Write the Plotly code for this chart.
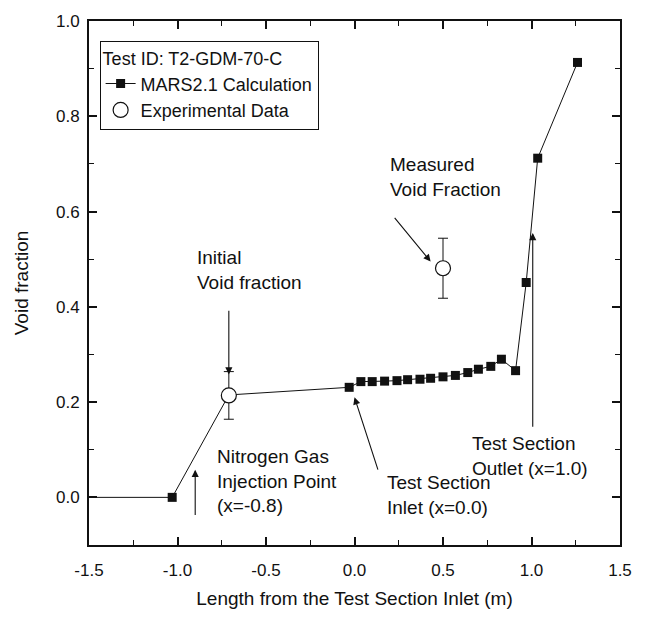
import plotly.graph_objects as go

# MARS2.1 calculated void fraction along the loop
mars_x = [-1.6, -1.03, -0.71, -0.03, 0.036, 0.10, 0.17, 0.24, 0.30, 0.37, 0.43,
          0.50, 0.57, 0.64, 0.70, 0.77, 0.83, 0.91, 0.97, 1.035, 1.26]
mars_y = [0.0, 0.0, 0.215, 0.231, 0.243, 0.243, 0.244, 0.245, 0.247, 0.248, 0.250,
          0.253, 0.256, 0.262, 0.269, 0.275, 0.290, 0.266, 0.451, 0.712, 0.913]

# Experimental void fraction with uncertainty
exp_x = [-0.71, 0.50]
exp_y = [0.214, 0.481]
exp_err = [0.05, 0.063]

x_tick_vals = [-1.5, -1.0, -0.5, 0.0, 0.5, 1.0, 1.5]
x_tick_text = ["-1.5", "-1.0", "-0.5", "0.0", "0.5", "1.0", "1.5"]
y_tick_vals = [0.0, 0.2, 0.4, 0.6, 0.8, 1.0]
y_tick_text = ["0.0", "0.2", "0.4", "0.6", "0.8", "1.0"]

FONT = "Liberation Sans, Arial, sans-serif"
BLACK = "#111111"

fig = go.Figure()

fig.add_trace(go.Scatter(
    x=mars_x, y=mars_y, mode="lines+markers", name="MARS2.1 Calculation",
    line=dict(color=BLACK, width=1),
    marker=dict(symbol="square", size=9, color=BLACK),
    cliponaxis=True,
))

fig.add_trace(go.Scatter(
    x=exp_x, y=exp_y, mode="markers", name="Experimental Data",
    marker=dict(symbol="circle", size=15, color="white",
                line=dict(color=BLACK, width=1.2)),
    error_y=dict(type="data", array=exp_err, visible=True,
                 color=BLACK, thickness=1, width=5),
))

# Text callouts with arrows (tail at ax/ay, head at x/y)
arrows = [
    dict(x=-0.71, y=0.258, ax=-0.71, ay=0.395),   # initial void fraction
    dict(x=0.43, y=0.495, ax=0.22, ay=0.59),      # measured void fraction
    dict(x=-0.90, y=0.058, ax=-0.90, ay=-0.04),   # injection point
    dict(x=0.0, y=0.21, ax=0.135, ay=0.055),      # test section inlet
    dict(x=1.007, y=0.555, ax=1.007, ay=0.145),   # test section outlet
]
for a in arrows:
    fig.add_annotation(x=a["x"], y=a["y"], ax=a["ax"], ay=a["ay"],
                       xref="x", yref="y", axref="x", ayref="y",
                       text="", showarrow=True, arrowhead=2, arrowsize=1.3,
                       arrowwidth=1.1, arrowcolor=BLACK)

labels = [
    ("Initial<br>Void fraction", -0.90, 0.477),
    ("Measured<br>Void Fraction", 0.19, 0.672),
    ("Nitrogen Gas<br>Injection Point<br>(x=-0.8)", -0.79, 0.035),
    ("Test Section<br>Inlet (x=0.0)", 0.17, 0.004),
    ("Test Section<br>Outlet (x=1.0)", 0.65, 0.087),
]
for txt, lx, ly in labels:
    fig.add_annotation(x=lx, y=ly, xref="x", yref="y", text=txt,
                       showarrow=False, xanchor="left", yanchor="middle",
                       align="left", font=dict(family=FONT, size=19, color=BLACK))

axis_common = dict(
    showline=True, linewidth=2, linecolor=BLACK, mirror="ticks",
    ticks="inside", ticklen=8, tickwidth=1.5, tickcolor=BLACK,
    showgrid=False, zeroline=False,
    tickfont=dict(family=FONT, size=17, color=BLACK),
)

fig.update_xaxes(
    range=[-1.5, 1.5], tickvals=x_tick_vals, ticktext=x_tick_text,
    ticklabelstandoff=9,
    minor=dict(dtick=0.25, tick0=-1.5, ticks="inside", ticklen=5,
               tickwidth=1.2, tickcolor=BLACK),
    title=dict(text="Length from the Test Section Inlet (m)",
               font=dict(family=FONT, size=19, color=BLACK), standoff=12),
    **axis_common,
)
fig.update_yaxes(
    range=[-0.1, 1.0], tickvals=y_tick_vals, ticktext=y_tick_text,
    ticklabelstandoff=4,
    minor=dict(dtick=0.1, tick0=0.0, ticks="inside", ticklen=5,
               tickwidth=1.2, tickcolor=BLACK),
    title=dict(text="Void fraction",
               font=dict(family=FONT, size=19, color=BLACK), standoff=22),
    **axis_common,
)

fig.update_layout(
    width=645, height=618,
    margin=dict(l=89, r=25, t=17, b=70),
    paper_bgcolor="white", plot_bgcolor="white",
    font=dict(family=FONT, color=BLACK),
    showlegend=True,
    legend=dict(
        x=0.02, y=0.962, xanchor="left", yanchor="top",
        bgcolor="white", bordercolor=BLACK, borderwidth=1,
        font=dict(family=FONT, size=18, color=BLACK),
        title=dict(text="Test ID: T2-GDM-70-C",
                   font=dict(family=FONT, size=18, color=BLACK)),
        tracegroupgap=0, itemsizing="trace",
    ),
)

fig.write_html("out.html")
